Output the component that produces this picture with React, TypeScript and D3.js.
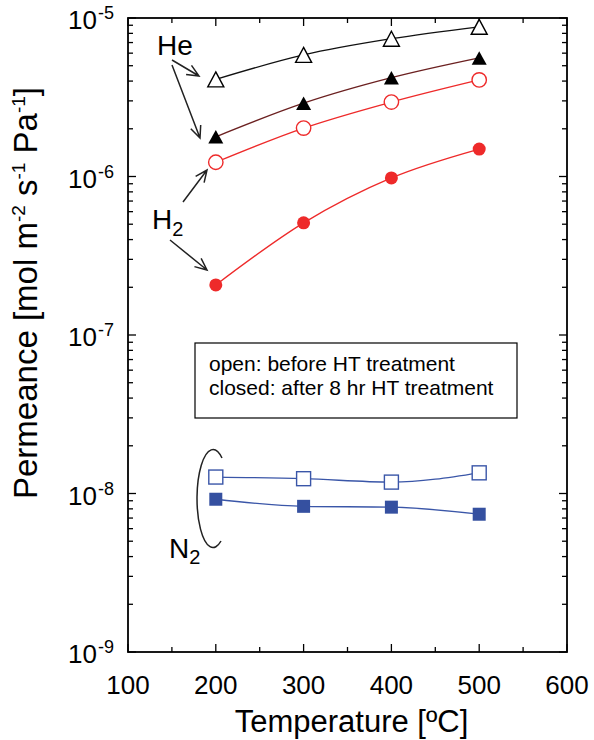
import * as d3 from "d3";

const temps = [200, 300, 400, 500];
const heOpen = [4.1e-6, 5.85e-6, 7.4e-6, 8.8e-6];
const heClosed = [1.78e-6, 2.9e-6, 4.2e-6, 5.6e-6];
const h2Open = [1.23e-6, 2.02e-6, 2.95e-6, 4.07e-6];
const h2Closed = [2.07e-7, 5.1e-7, 9.8e-7, 1.49e-6];
const n2Open = [1.27e-8, 1.24e-8, 1.18e-8, 1.35e-8];
const n2Closed = [9.2e-9, 8.3e-9, 8.2e-9, 7.4e-9];

const xTicks = [100, 200, 300, 400, 500, 600];
const yExponents = [-5, -6, -7, -8, -9];
const legendLines = ["open: before HT treatment", "closed: after 8 hr HT treatment"];

const W = 594;
const H = 740;
const M = { left: 128, right: 567, top: 18, bottom: 652 };
const FONT = "'Liberation Sans', Arial, sans-serif";

const RED = "#ee2a2a";
const BLUE = "#3a56a8";

type Shape = "triangle" | "circle" | "square";

interface Series {
  values: number[];
  line: string;
  color: string;
  shape: Shape;
  filled: boolean;
}

const series: Series[] = [
  { values: heOpen, line: "#111", color: "#000", shape: "triangle", filled: false },
  { values: heClosed, line: "#6b2020", color: "#000", shape: "triangle", filled: true },
  { values: h2Open, line: RED, color: RED, shape: "circle", filled: false },
  { values: h2Closed, line: RED, color: RED, shape: "circle", filled: true },
  { values: n2Open, line: BLUE, color: BLUE, shape: "square", filled: false },
  { values: n2Closed, line: BLUE, color: "#3550a0", shape: "square", filled: true },
];

function arrowPath(x1: number, y1: number, x2: number, y2: number) {
  const a = Math.atan2(y2 - y1, x2 - x1);
  const len = 13;
  const spread = 0.42;
  const hx1 = x2 - len * Math.cos(a - spread);
  const hy1 = y2 - len * Math.sin(a - spread);
  const hx2 = x2 - len * Math.cos(a + spread);
  const hy2 = y2 - len * Math.sin(a + spread);
  return `M${x1},${y1}L${x2},${y2}M${hx1},${hy1}L${x2},${y2}L${hx2},${hy2}`;
}

function Marker({ cx, cy, s }: { cx: number; cy: number; s: Series }) {
  const fill = s.filled ? s.color : "#fff";
  const sw = s.filled ? 0 : 1.4;
  if (s.shape === "circle") {
    const r = s.filled ? 6.5 : 7.2;
    return <circle cx={cx} cy={cy} r={r} fill={fill} stroke={s.color} strokeWidth={sw} />;
  }
  if (s.shape === "square") {
    const a = s.filled ? 13 : 14;
    return (
      <rect x={cx - a / 2} y={cy - a / 2} width={a} height={a} fill={fill} stroke={s.color} strokeWidth={sw} />
    );
  }
  const w = s.filled ? 15 : 16;
  const h = s.filled ? 13.5 : 15;
  const d = `M${cx},${cy - h / 2}L${cx + w / 2},${cy + h / 2}L${cx - w / 2},${cy + h / 2}Z`;
  return <path d={d} fill={fill} stroke={s.color} strokeWidth={sw} strokeLinejoin="miter" />;
}

export default function App() {
  const x = d3.scaleLinear().domain([100, 600]).range([M.left, M.right]);
  const y = d3.scaleLog().domain([1e-9, 1e-5]).range([M.bottom, M.top]);

  const line = d3
    .line<number>()
    .x((_, i) => x(temps[i]))
    .y((v) => y(v))
    .curve(d3.curveMonotoneX);

  const minorX = d3.range(150, 600, 100);
  const minorY: number[] = [];
  for (let e = -9; e < -5; e++) {
    for (let k = 2; k <= 9; k++) minorY.push(k * Math.pow(10, e));
  }

  const tickStroke = { stroke: "#000", strokeWidth: 1.3 };

  return (
    <svg
      width={W}
      height={H}
      style={{ position: "absolute", left: 0, top: 0, background: "#fff" }}
      fontFamily={FONT}
    >
      {/* frame ticks */}
      {xTicks.map((t) => (
        <g key={"xt" + t}>
          <line x1={x(t)} x2={x(t)} y1={M.bottom} y2={M.bottom - 8} {...tickStroke} />
          <line x1={x(t)} x2={x(t)} y1={M.top} y2={M.top + 8} {...tickStroke} />
        </g>
      ))}
      {minorX.map((t) => (
        <g key={"xm" + t}>
          <line x1={x(t)} x2={x(t)} y1={M.bottom} y2={M.bottom - 5} {...tickStroke} />
          <line x1={x(t)} x2={x(t)} y1={M.top} y2={M.top + 5} {...tickStroke} />
        </g>
      ))}
      {yExponents.map((e) => (
        <g key={"yt" + e}>
          <line x1={M.left} x2={M.left + 8} y1={y(Math.pow(10, e))} y2={y(Math.pow(10, e))} {...tickStroke} />
          <line x1={M.right} x2={M.right - 8} y1={y(Math.pow(10, e))} y2={y(Math.pow(10, e))} {...tickStroke} />
        </g>
      ))}
      {minorY.map((v, i) => (
        <g key={"ym" + i}>
          <line x1={M.left} x2={M.left + 5} y1={y(v)} y2={y(v)} {...tickStroke} />
          <line x1={M.right} x2={M.right - 5} y1={y(v)} y2={y(v)} {...tickStroke} />
        </g>
      ))}
      <rect
        x={M.left}
        y={M.top}
        width={M.right - M.left}
        height={M.bottom - M.top}
        fill="none"
        stroke="#000"
        strokeWidth={1.8}
      />

      {/* tick labels */}
      {xTicks.map((t) => (
        <text key={"xl" + t} x={x(t)} y={694} fontSize={26} textAnchor="middle">
          {t}
        </text>
      ))}
      {yExponents.map((e) => {
        const yy = y(Math.pow(10, e));
        return (
          <g key={"yl" + e}>
            <text x={97} y={yy + 11} fontSize={26} textAnchor="end">
              10
            </text>
            <text x={98} y={yy + 1} fontSize={18}>
              {"-" + Math.abs(e)}
            </text>
          </g>
        );
      })}

      {/* axis titles */}
      <text x={(M.left + M.right) / 2 + 4} y={732} fontSize={31} textAnchor="middle">
        Temperature [ºC]
      </text>
      <text transform="translate(37,293) rotate(-90)" fontSize={33} textAnchor="middle">
        Permeance [mol m
        <tspan fontSize={19} dy={-12}>-2</tspan>
        <tspan dy={12}> s</tspan>
        <tspan fontSize={19} dy={-12}>-1</tspan>
        <tspan dy={12}> Pa</tspan>
        <tspan fontSize={19} dy={-12}>-1</tspan>
        <tspan dy={12}>]</tspan>
      </text>

      {/* series */}
      {series.map((s, i) => (
        <path key={"l" + i} d={line(s.values) ?? ""} fill="none" stroke={s.line} strokeWidth={1.3} />
      ))}
      {series.map((s, i) =>
        s.values.map((v, j) => <Marker key={`m${i}-${j}`} cx={x(temps[j])} cy={y(v)} s={s} />)
      )}

      {/* annotations */}
      <g stroke="#222" strokeWidth={1.5} fill="none">
        <path d={arrowPath(172, 60, 199, 76)} />
        <path d={arrowPath(172, 65, 200, 138)} />
        <path d={arrowPath(183, 202, 207, 170)} />
        <path d={arrowPath(170, 240, 207, 270)} />
        <path d="M222,458 A16,49 0 1 0 221,541" />
      </g>
      <text x={157} y={55} fontSize={28}>
        He
      </text>
      <text x={152} y={229} fontSize={28}>
        H<tspan fontSize={20} dy={7}>2</tspan>
      </text>
      <text x={169} y={558} fontSize={28}>
        N<tspan fontSize={20} dy={6}>2</tspan>
      </text>

      {/* legend box */}
      <rect x={195} y={343} width={322} height={75} fill="#fff" stroke="#000" strokeWidth={1.2} />
      {legendLines.map((t, i) => (
        <text key={"lg" + i} x={209} y={371 + i * 23.5} fontSize={21}>
          {t}
        </text>
      ))}
    </svg>
  );
}
